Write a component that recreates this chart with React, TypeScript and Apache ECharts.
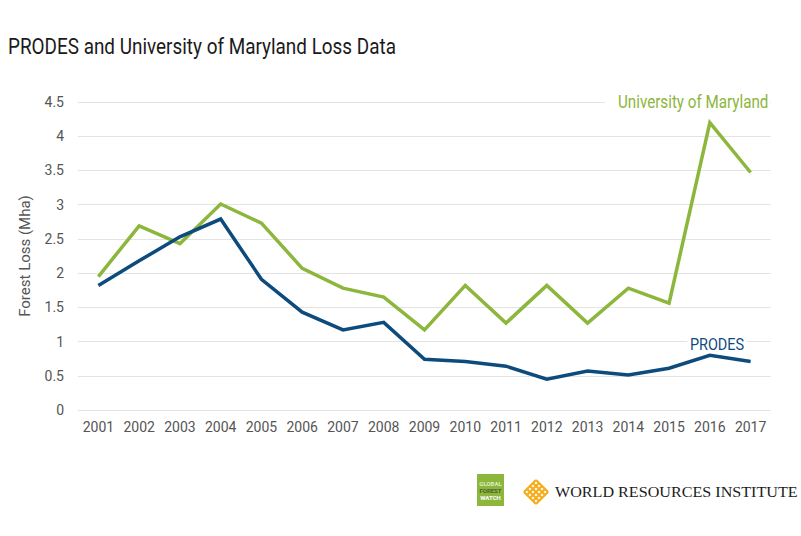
import React, { useEffect, useRef } from "react";
import * as echarts from "echarts";

const years = ["2001","2002","2003","2004","2005","2006","2007","2008","2009","2010","2011","2012","2013","2014","2015","2016","2017"];
const umdLoss = [1.95, 2.69, 2.43, 3.01, 2.73, 2.07, 1.78, 1.65, 1.17, 1.82, 1.27, 1.82, 1.27, 1.78, 1.56, 4.2, 3.47];
const prodesLoss = [1.82, 2.18, 2.53, 2.79, 1.91, 1.43, 1.17, 1.28, 0.74, 0.71, 0.64, 0.45, 0.57, 0.51, 0.61, 0.8, 0.71];
const yTickMax = 4.5;
const yTickStep = 0.5;

const GREEN = "#8cb63c";
const BLUE = "#0e4b7d";
const FONT = "Roboto, 'Liberation Sans', sans-serif";

function latticeLines(): any[] {
  const out: any[] = [];
  const n = 5;
  const s = 17;
  const step = s / (n - 1);
  for (let i = 0; i < n; i++) {
    const p = -s / 2 + i * step;
    out.push({ type: "line", shape: { x1: p, y1: -s / 2, x2: p, y2: s / 2 }, style: { stroke: "#f5ad1f", lineWidth: 2.2 } });
    out.push({ type: "line", shape: { x1: -s / 2, y1: p, x2: s / 2, y2: p }, style: { stroke: "#f5ad1f", lineWidth: 2.2 } });
  }
  return out;
}

export default function App() {
  const ref = useRef<HTMLDivElement>(null);
  useEffect(() => {
    if (!ref.current) return;
    const chart = echarts.init(ref.current, undefined, { renderer: "svg" });
    chart.setOption({
      animation: false,
      backgroundColor: "#ffffff",
      grid: { left: 78, right: 30, top: 102, bottom: 126 },
      xAxis: {
        type: "category",
        data: years,
        boundaryGap: true,
        axisLine: { show: false },
        axisTick: { show: false },
        axisLabel: { color: "#555", fontFamily: FONT, fontSize: 14, margin: 10, interval: 0 },
      },
      yAxis: {
        type: "value",
        min: 0,
        max: yTickMax,
        interval: yTickStep,
        name: "Forest Loss (Mha)",
        nameLocation: "middle",
        nameGap: 46,
        nameTextStyle: { color: "#555", fontFamily: FONT, fontSize: 15 },
        axisLine: { show: false },
        axisTick: { show: false },
        axisLabel: { color: "#555", fontFamily: FONT, fontSize: 14, margin: 14 },
        splitLine: { lineStyle: { color: "#e3e3e3", width: 1.2 } },
      },
      series: [
        {
          name: "University of Maryland",
          type: "line",
          data: umdLoss,
          symbol: "none",
          lineStyle: { color: GREEN, width: 3.5, join: "miter" },
          z: 3,
        },
        {
          name: "PRODES",
          type: "line",
          data: prodesLoss,
          symbol: "none",
          lineStyle: { color: BLUE, width: 3.5, join: "miter" },
          z: 4,
        },
      ],
      graphic: [
        {
          type: "text",
          x: 8,
          y: 46,
          scaleX: 0.86,
          style: {
            text: "PRODES and University of Maryland Loss Data",
            fill: "#1a1a1a",
            font: `22px ${FONT}`,
            align: "left",
            verticalAlign: "middle",
          },
        },
        {
          type: "text",
          x: 770,
          y: 101,
          scaleX: 0.8,
          style: {
            text: "University of Maryland",
            fill: GREEN,
            font: `19px ${FONT}`,
            align: "right",
            verticalAlign: "middle",
            backgroundColor: "#ffffff",
            padding: [0, 2, 0, 16],
          },
          z: 10,
        },
        {
          type: "text",
          x: 717,
          y: 344,
          scaleX: 0.85,
          style: {
            text: "PRODES",
            fill: BLUE,
            font: `17px ${FONT}`,
            align: "center",
            verticalAlign: "middle",
            backgroundColor: "#ffffff",
            padding: [0, 3],
          },
          z: 10,
        },
        {
          type: "group",
          x: 477,
          y: 474,
          children: [
            { type: "rect", shape: { x: 0, y: 0, width: 27, height: 32 }, style: { fill: GREEN } },
            { type: "text", x: 13.5, y: 9, style: { text: "GLOBAL", fill: "#dfeac2", font: "bold 6px Roboto, sans-serif", align: "center", verticalAlign: "middle" } },
            { type: "text", x: 13.5, y: 16, style: { text: "FOREST", fill: "#4f5f33", font: "bold 6px Roboto, sans-serif", align: "center", verticalAlign: "middle" } },
            { type: "text", x: 13.5, y: 23, style: { text: "WATCH", fill: "#ffffff", font: "bold 6px Roboto, sans-serif", align: "center", verticalAlign: "middle" } },
          ],
        },
        {
          type: "group",
          x: 536,
          y: 492,
          rotation: Math.PI / 4,
          children: latticeLines(),
        },
        {
          type: "text",
          x: 555,
          y: 492,
          scaleX: 1.075,
          style: {
            text: "WORLD RESOURCES INSTITUTE",
            fill: "#1a1a1a",
            font: "15px 'Liberation Serif', 'DejaVu Serif', serif",
            align: "left",
            verticalAlign: "middle",
          },
        },
      ],
    });
    return () => chart.dispose();
  }, []);
  return <div ref={ref} style={{ width: 801, height: 536, position: "absolute", left: 0, top: 0 }} />;
}
